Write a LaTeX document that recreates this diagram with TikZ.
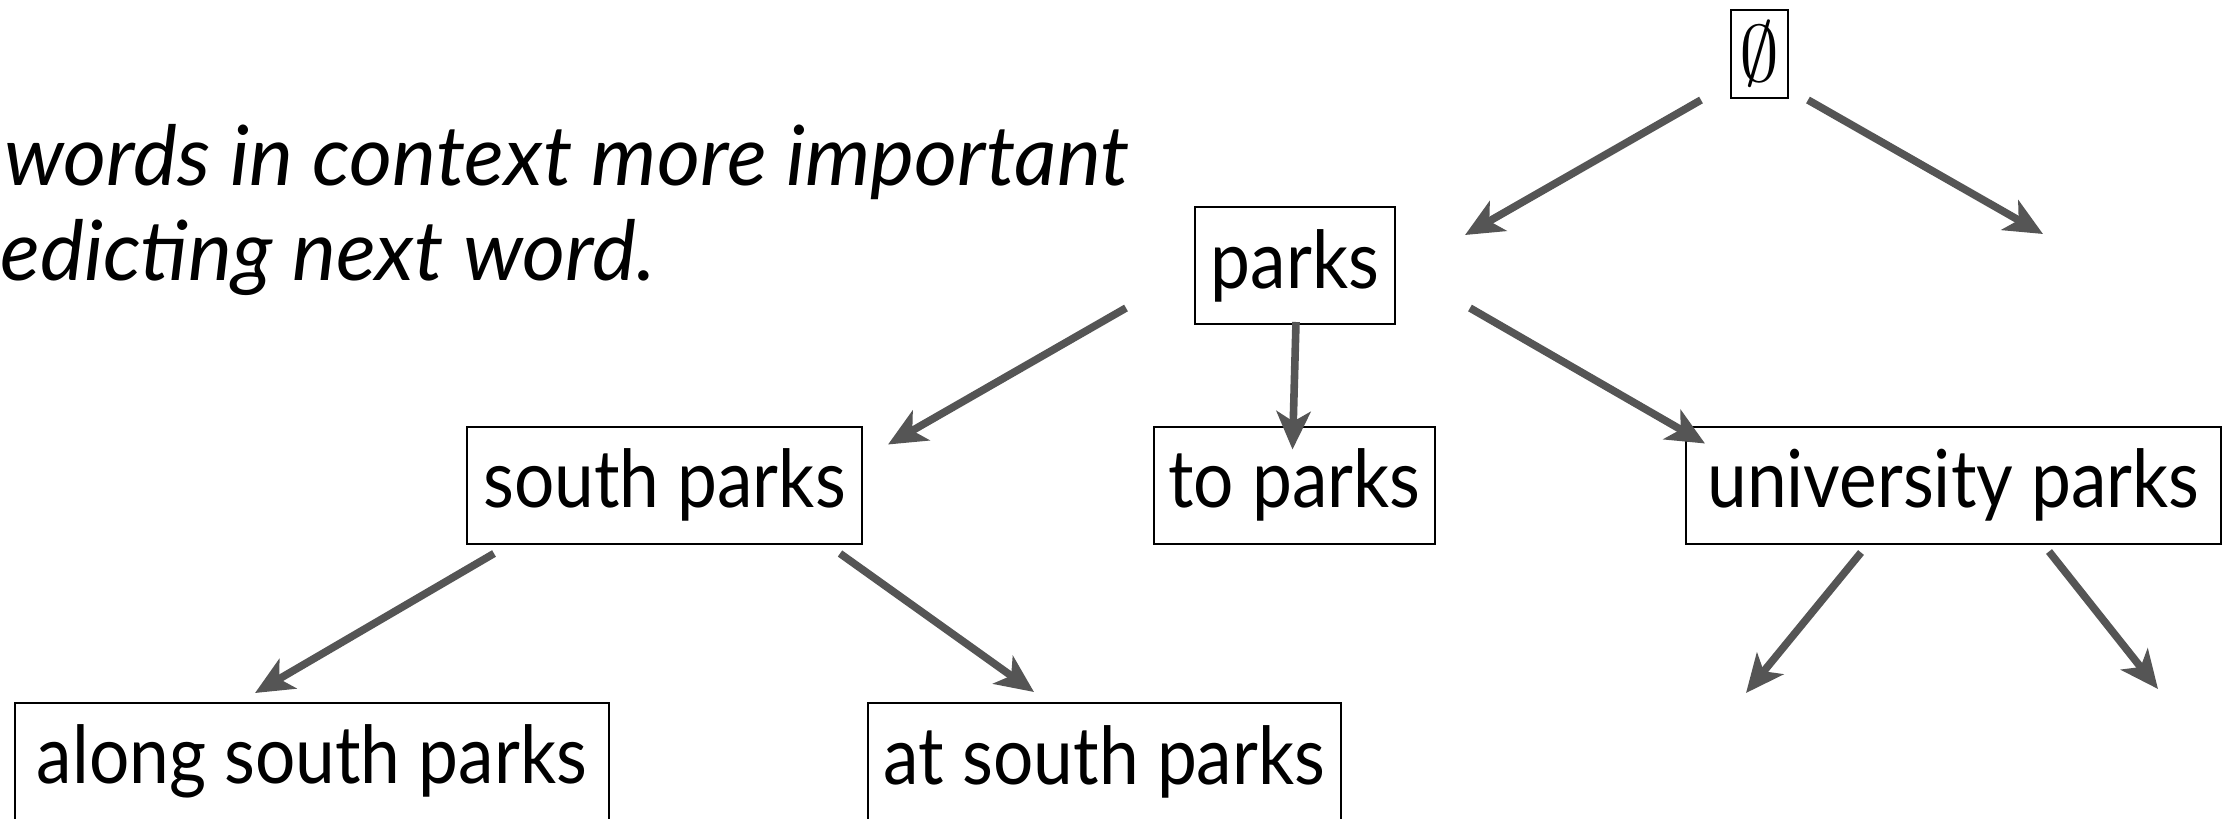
\RequirePackage{fix-cm}
\documentclass[tikz,border=0pt]{standalone}
\usepackage{fontspec}
\setmainfont{Lato}[FakeStretch=0.89]
\newfontfamily\notefont{Lato}
\usetikzlibrary{arrows.meta,calc}
\definecolor{arrgray}{RGB}{85,85,85}
\begin{document}
\begin{tikzpicture}[x=0.5pt,y=-0.5pt,
  lbl/.style={font=\fontsize{40}{48}\selectfont},
  box/.style={lbl,draw=black,line width=1pt,inner sep=0pt,minimum height=58.5pt},
  arr/.style={draw=arrgray,line width=3.8pt,-{Stealth[length=19pt,width=17pt,inset=5pt]}},
  note/.style={font=\notefont\fontsize{41.5}{50}\selectfont\itshape,anchor=base west,inner sep=0pt}]
\useasboundingbox (0,0) rectangle (2228,819);
\node[box,minimum width=28.5pt,minimum height=44pt] (empty) at (1759.5,54) {$\emptyset$};
\node[box,minimum width=100pt] (parks) at (1295,265.5) {parks};
\node[box,minimum width=197.5pt] (sp) at (664.5,485) {south parks};
\node[box,minimum width=140.5pt] (tp) at (1294.5,485) {to parks};
\node[box,minimum width=267.5pt] (up) at (1953.5,485) {university parks};
\node[box,minimum width=297pt] (asp) at (312,761.5) {along south parks};
\node[box,minimum width=236.5pt] (atsp) at (1104.5,761.5) {at south parks};
\node[note] (n1) at (4,185) {words in context more important};
\node[note] (n2) at (0,280) {edicting next word.};
\coordinate (r1) at (2043,234);
\coordinate (u1) at (1746,693);
\coordinate (u2) at (2158,689);
\draw[arr] ($(empty.south west)+(-29,1)$) -- ($(parks.north east)+(69,29)$);
\draw[arr] ($(empty.south east)+(19,1)$) -- (r1);
\draw[arr] ($(parks.south west)+(-68,-17)$) -- ($(sp.north east)+(25,19)$);
\draw[arr] ($(parks.south)+(1,-3)$) -- ($(tp.north)+(-2,24)$);
\draw[arr] ($(parks.south east)+(74,-17)$) -- ($(up.north west)+(20,18)$);
\draw[arr] ($(sp.south west)+(28,9)$) -- ($(asp.north west)+(241,-9)$);
\draw[arr] ($(sp.south east)+(-23,9)$) -- ($(atsp.north west)+(167,-10)$);
\draw[arr] ($(up.south west)+(176,8)$) -- (u1);
\draw[arr] ($(up.south west)+(364,7)$) -- (u2);
\end{tikzpicture}
\end{document}
